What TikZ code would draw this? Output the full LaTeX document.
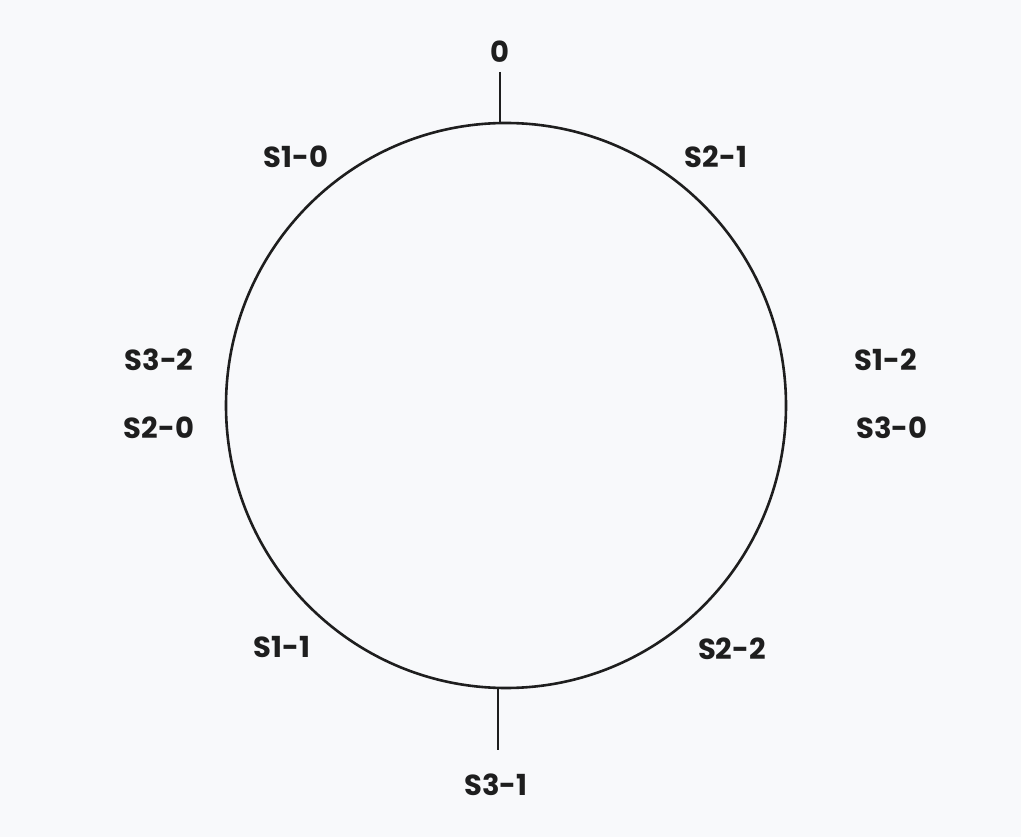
\documentclass[tikz,border=0pt]{standalone}
\usepackage{fontspec}
\setmainfont{Poppins}
\usetikzlibrary{shapes.geometric}
\definecolor{bgc}{HTML}{F8F9FB}
\definecolor{ink}{HTML}{1E1E1E}
\tikzset{
  lbl/.style={font=\fontsize{29}{33}\selectfont\bfseries, text=ink, inner sep=0pt},
  ringline/.style={draw=ink, line width=2.6pt},
}
\begin{document}
\begin{tikzpicture}[x=1pt,y=-1pt]
\fill[bgc] (0,0) rectangle (1021,837);
\useasboundingbox (0,0) rectangle (1021,837);
\node[ellipse, ringline, minimum width=560pt, minimum height=565pt, inner sep=0pt] (ring) at (506,405.5) {};
\coordinate (ttop) at (500,72);
\coordinate (tbot) at (500,123);
\coordinate (btop) at (498,688);
\coordinate (bbot) at (498,750);
\draw[ringline] (ttop) -- (tbot);
\draw[ringline] (btop) -- (bbot);
\node[lbl] (n0) at (500,52) {0};
\node[lbl] (s10) at (296,157) {S1-0};
\node[lbl] (s21) at (716,157) {S2-1};
\node[lbl] (s32) at (159,360) {S3-2};
\node[lbl] (s20) at (159,428) {S2-0};
\node[lbl] (s12) at (886,360) {S1-2};
\node[lbl] (s30) at (892,428) {S3-0};
\node[lbl] (s11) at (282,647) {S1-1};
\node[lbl] (s22) at (732,649) {S2-2};
\node[lbl] (s31) at (496,785) {S3-1};
\end{tikzpicture}
\end{document}
